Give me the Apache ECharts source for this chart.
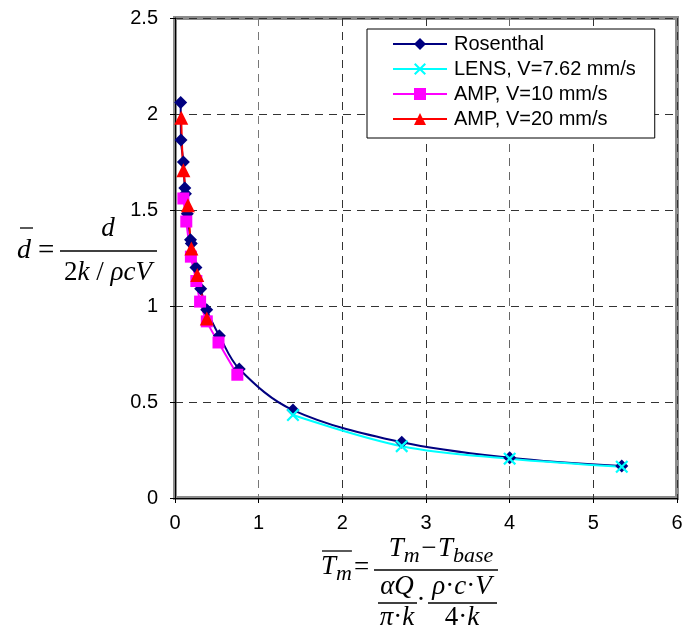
<!DOCTYPE html>
<html>
<head>
<meta charset="utf-8">
<script src="https://cdn.jsdelivr.net/npm/echarts@6/dist/echarts.min.js"></script>
<style>
  html, body { margin: 0; padding: 0; background: #fff; }
  #chart { width: 690px; height: 632px; }
</style>
</head>
<body>
<div id="chart"></div>
<script>
// Dimensionless melt-pool depth vs. dimensionless melting temperature
const seriesNames = ['Rosenthal', 'LENS, V=7.62 mm/s', 'AMP, V=10 mm/s', 'AMP, V=20 mm/s'];

const rosenthalX = [0.068, 0.072, 0.10, 0.117, 0.125, 0.147, 0.185, 0.195, 0.25, 0.307, 0.379, 0.53, 0.768, 1.41, 2.71, 4.0, 5.34];
const rosenthalY = [2.06, 1.865, 1.75, 1.615, 1.585, 1.48, 1.345, 1.325, 1.20, 1.09, 0.98, 0.845, 0.672, 0.458, 0.29, 0.21, 0.167];

const lensX = [1.41, 2.71, 4.0, 5.34];
const lensY = [0.432, 0.27, 0.205, 0.163];

const amp10X = [0.10, 0.135, 0.19, 0.255, 0.30, 0.38, 0.52, 0.745];
const amp10Y = [1.56, 1.44, 1.257, 1.13, 1.023, 0.92, 0.81, 0.642];

const amp20X = [0.075, 0.10, 0.155, 0.196, 0.266, 0.38];
const amp20Y = [1.98, 1.707, 1.525, 1.30, 1.162, 0.935];

const xTicks = { min: 0, max: 6, step: 1 };
const yTicks = { min: 0, max: 2.5, step: 0.5 };

const pairs = (xs, ys) => xs.map((x, i) => [x, ys[i]]);

const crossPath = 'path://M0,1.2L1.2,0L5,3.8L8.8,0L10,1.2L6.2,5L10,8.8L8.8,10L5,6.2L1.2,10L0,8.8L3.8,5Z';

// Text measuring for the formula titles
const ctx = document.createElement('canvas').getContext('2d');
function measure(text, font) { ctx.font = font; return ctx.measureText(text).width; }
const SERIF = '"Liberation Serif", "DejaVu Serif", serif';
const it = (size) => 'italic ' + size + 'px ' + SERIF;
const up = (size) => size + 'px ' + SERIF;

// Lay out a row of text runs, centred on cx (or starting at cx when align = 'left')
function row(runs, cx, cy, align) {
  const widths = runs.map(r => measure(r.t, r.f) + (r.pad || 0));
  const total = widths.reduce((a, b) => a + b, 0);
  let x = align === 'left' ? cx : cx - total / 2;
  const out = [];
  runs.forEach((r, i) => {
    out.push({
      type: 'text', x: x + (r.pad || 0) / 2, y: cy + (r.dy || 0), z: 100,
      style: { text: r.t, font: r.f, fill: '#000', textAlign: 'left', verticalAlign: 'middle' }
    });
    x += widths[i];
  });
  return { items: out, left: align === 'left' ? cx : cx - total / 2, width: total };
}
function hline(x1, x2, y, w) {
  return { type: 'line', z: 100, shape: { x1: x1, y1: y, x2: x2, y2: y }, style: { stroke: '#000', lineWidth: w || 1.3 } };
}

const graphics = [];

// Y-axis title: d̄ = d / (2k / ρcV)
{
  const F = 27;
  const dBar = row([{ t: 'd', f: it(F + 1) }], 17, 251, 'left');
  graphics.push(...dBar.items);
  graphics.push(hline(dBar.left + 3, dBar.left + dBar.width + 2, 228, 1.3));
  graphics.push(...row([{ t: '=', f: up(F + 2) }], 38, 251, 'left').items);
  graphics.push(...row([{ t: 'd', f: it(F) }], 108, 229).items);
  graphics.push(hline(60, 157, 251, 1.3));
  graphics.push(...row([{ t: '2', f: up(F) }, { t: 'k', f: it(F) }, { t: ' / ', f: up(F) }, { t: 'ρcV', f: it(F) }], 108, 273).items);
}

// X-axis title: T̄m = (Tm − Tbase) / ((αQ / π·k) · (ρ·c·V / 4·k))
{
  const F = 27, S = 22;
  const tm = row([{ t: 'T', f: it(F) }, { t: 'm', f: it(S), dy: 7 }], 321, 567, 'left');
  graphics.push(...tm.items);
  graphics.push(hline(tm.left + 1, tm.left + tm.width, 551, 1.3));
  graphics.push(...row([{ t: '=', f: up(F) }], 354, 568, 'left').items);
  graphics.push(hline(374, 498, 570, 1.3));
  graphics.push(...row([
    { t: 'T', f: it(F) }, { t: 'm', f: it(S), dy: 7 }, { t: '−', f: up(F), pad: 3 },
    { t: 'T', f: it(F) }, { t: 'base', f: it(S), dy: 7 }
  ], 441, 549).items);
  // left sub-fraction
  graphics.push(...row([{ t: 'αQ', f: it(F) }], 397, 587).items);
  graphics.push(hline(378, 417, 603, 1.3));
  graphics.push(...row([{ t: 'π', f: it(F) }, { t: '·', f: up(F) }, { t: 'k', f: it(F) }], 397, 618).items);
  graphics.push(...row([{ t: '·', f: up(F) }], 421, 601).items);
  // right sub-fraction
  graphics.push(...row([{ t: 'ρ', f: it(F) }, { t: '·', f: up(F) }, { t: 'c', f: it(F) }, { t: '·', f: up(F) }, { t: 'V', f: it(F) }], 462, 587).items);
  graphics.push(hline(428, 497, 603, 1.3));
  graphics.push(...row([{ t: '4', f: up(F) }, { t: '·', f: up(F) }, { t: 'k', f: it(F) }], 462, 618).items);
}

const SANS = '"Liberation Sans", Arial, sans-serif';

const chart = echarts.init(document.getElementById('chart'), null, { renderer: 'canvas' });
chart.setOption({
  backgroundColor: '#fff',
  animation: false,
  grid: {
    left: 175, right: 13, top: 18, bottom: 134,
    show: true, borderColor: '#8c8c8c', borderWidth: 4, backgroundColor: 'transparent'
  },
  legend: {
    orient: 'vertical',
    left: 367, top: 29,
    padding: [5, 19, 9, 25],
    itemWidth: 54, itemHeight: 15, itemGap: 5,
    borderColor: '#000', borderWidth: 1, backgroundColor: '#fff',
    textStyle: { fontFamily: SANS, fontSize: 20, lineHeight: 20, color: '#000', padding: [0, 0, 0, 2] },
    data: seriesNames
  },
  xAxis: {
    type: 'value', min: xTicks.min, max: xTicks.max, interval: xTicks.step,
    axisLine: { show: true, onZero: false, lineStyle: { color: '#000', width: 1 } },
    axisTick: { show: true, inside: false, length: 5, lineStyle: { color: '#000' } },
    axisLabel: { color: '#000', fontFamily: SANS, fontSize: 20, margin: 15 },
    splitLine: { show: true, lineStyle: { color: ['#333', '#777', '#333', '#333', '#666', '#333', '#333'], width: 1, type: [8, 6] } }
  },
  yAxis: {
    type: 'value', min: yTicks.min, max: yTicks.max, interval: yTicks.step,
    axisLine: { show: true, onZero: false, lineStyle: { color: '#000', width: 1 } },
    axisTick: { show: true, inside: false, length: 5, lineStyle: { color: '#000' } },
    axisLabel: { color: '#000', fontFamily: SANS, fontSize: 20, margin: 17 },
    splitLine: { show: true, lineStyle: { color: '#333', width: 1, type: [8, 6] } }
  },
  series: [
    {
      name: seriesNames[0], type: 'line', smooth: 0.35,
      data: pairs(rosenthalX, rosenthalY),
      symbol: 'diamond', symbolSize: 13,
      lineStyle: { color: '#000080', width: 2 },
      itemStyle: { color: '#000080' }
    },
    {
      name: seriesNames[1], type: 'line', smooth: 0.35,
      data: pairs(lensX, lensY),
      symbol: crossPath, symbolSize: 13, symbolKeepAspect: true,
      lineStyle: { color: '#00ffff', width: 2 },
      itemStyle: { color: '#00ffff' }
    },
    {
      name: seriesNames[2], type: 'line', smooth: 0.35,
      data: pairs(amp10X, amp10Y),
      symbol: 'rect', symbolSize: 12,
      lineStyle: { color: '#ff00ff', width: 2 },
      itemStyle: { color: '#ff00ff' }
    },
    {
      name: seriesNames[3], type: 'line', smooth: 0.35,
      data: pairs(amp20X, amp20Y),
      symbol: 'triangle', symbolSize: 14,
      lineStyle: { color: '#ff0000', width: 2 },
      itemStyle: { color: '#ff0000' }
    }
  ],
  graphic: graphics
});
</script>
</body>
</html>
